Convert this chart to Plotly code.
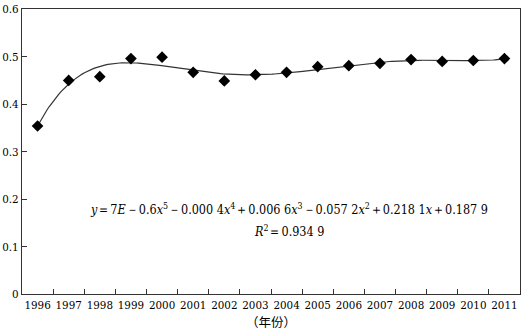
import numpy as np
import plotly.graph_objects as go

# Annual values, 1996-2011
years = ["1996", "1997", "1998", "1999", "2000", "2001", "2002", "2003",
         "2004", "2005", "2006", "2007", "2008", "2009", "2010", "2011"]
values = [0.354, 0.450, 0.458, 0.496, 0.499, 0.467, 0.449, 0.462,
          0.467, 0.479, 0.481, 0.486, 0.494, 0.490, 0.492, 0.496]
y_ticks = [0, 0.1, 0.2, 0.3, 0.4, 0.5, 0.6]
y_tick_text = ["0", "0.1", "0.2", "0.3", "0.4", "0.5", "0.6"]

pos = np.arange(len(years))

# 5th-order polynomial trend fitted over x = 1..16
coef = np.polyfit(pos + 1, values, 5)
xs = np.linspace(1, len(years), 200)
trend = np.polyval(coef, xs)

SERIF = "DejaVu Serif Condensed, DejaVu Serif, serif"

fig = go.Figure()
fig.add_trace(go.Scatter(
    x=xs - 1, y=trend, mode="lines",
    line=dict(color="#333333", width=1.2), hoverinfo="skip", showlegend=False,
))
fig.add_trace(go.Scatter(
    x=pos, y=values, mode="markers",
    marker=dict(symbol="diamond", size=9, color="black"),
    showlegend=False,
))

eq = ("<i>y</i>＝7<i>E</i>－0.6<i>x</i><sup>5</sup>－0.000 4<i>x</i><sup>4</sup>"
      "＋0.006 6<i>x</i><sup>3</sup>－0.057 2<i>x</i><sup>2</sup>"
      "＋0.218 1<i>x</i>＋0.187 9")
r2 = "<i>R</i><sup>2</sup>＝0.934 9"

fig.add_annotation(x=0.536, y=0.179, xref="paper", yref="y", text=eq,
                   showarrow=False, xanchor="center", yanchor="middle",
                   font=dict(family=SERIF, size=12.5, color="black"))
fig.add_annotation(x=0.536, y=0.133, xref="paper", yref="y", text=r2,
                   showarrow=False, xanchor="center", yanchor="middle",
                   font=dict(family=SERIF, size=12.5, color="black"))

fig.update_xaxes(
    range=[-0.5, len(years) - 0.5],
    tickmode="array", tickvals=list(pos), ticktext=years, ticks="",
    tickangle=0,
    minor=dict(tickmode="array", tickvals=list(pos[:-1] + 0.5),
               ticks="inside", ticklen=5, tickcolor="#333333", showgrid=False),
    showgrid=False, zeroline=False,
    showline=True, linecolor="#333333", linewidth=1, mirror=True,
    tickfont=dict(family=SERIF, size=11.5, color="black"),
    title=dict(text="（年份）", standoff=1,
               font=dict(family="Noto Sans CJK SC", size=12.5, color="black")),
)
fig.update_yaxes(
    range=[0, 0.6005],
    tickmode="array", tickvals=y_ticks, ticktext=y_tick_text,
    ticks="inside", ticklen=5, tickcolor="#333333",
    showgrid=False, zeroline=False,
    showline=True, linecolor="#333333", linewidth=1, mirror=True,
    tickfont=dict(family=SERIF, size=11.5, color="black"),
)

fig.update_layout(
    width=523, height=331,
    margin=dict(l=22, r=2, t=7, b=37),
    plot_bgcolor="white", paper_bgcolor="white",
    font=dict(family=SERIF),
)

fig.write_html("out.html")
